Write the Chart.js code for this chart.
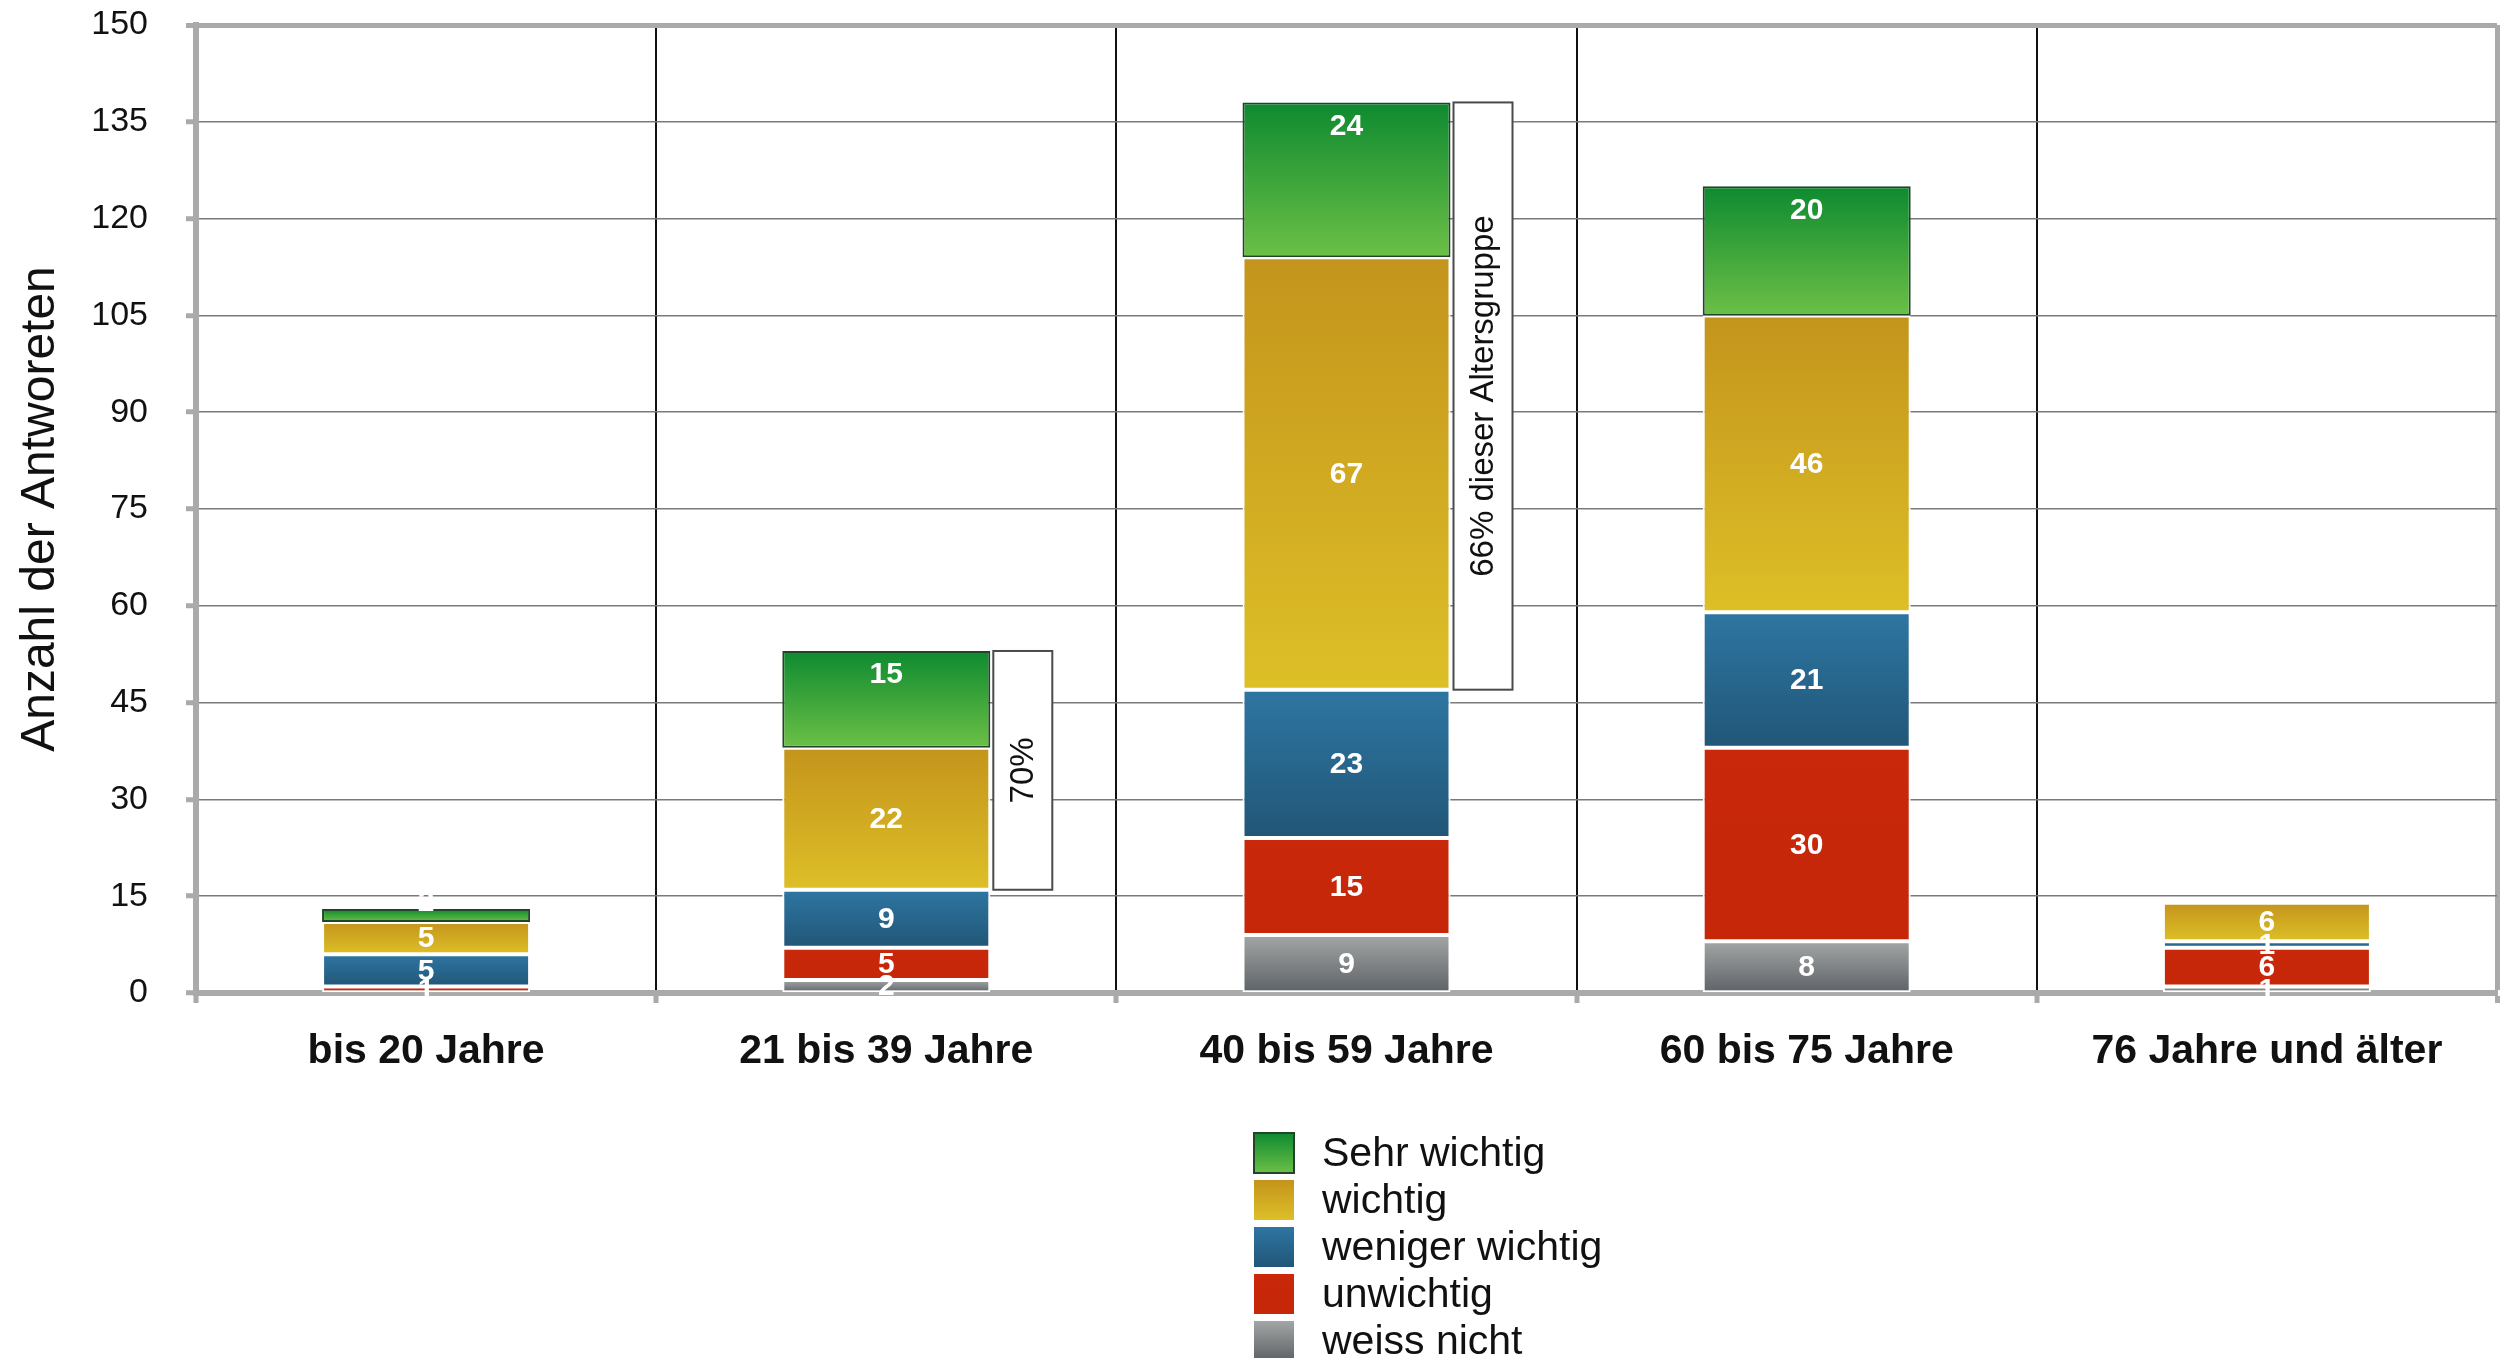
<!DOCTYPE html>
<html>
<head>
<meta charset="utf-8">
<script src="https://cdn.jsdelivr.net/npm/chart.js@4.4.1/dist/chart.umd.min.js"></script>
<style>
  html, body { margin: 0; padding: 0; background: #ffffff; }
  #wrap { position: relative; width: 2509px; height: 1358px; }
</style>
</head>
<body>
<div id="wrap"><canvas id="chart"></canvas></div>
<script>
// answers per age group, stacked bottom -> top
const ageGroups = ["bis 20 Jahre", "21 bis 39 Jahre", "40 bis 59 Jahre", "60 bis 75 Jahre", "76 Jahre und älter"];
const weissNicht = [0, 2, 9, 8, 1];
const unwichtig = [1, 5, 15, 30, 6];
const wenigerWichtig = [5, 9, 23, 21, 1];
const wichtig = [5, 22, 67, 46, 6];
const sehrWichtig = [2, 15, 24, 20, 0];
const yTicks = [0, 15, 30, 45, 60, 75, 90, 105, 120, 135, 150];
const shareNotes = [null, "70%", "66% dieser Altersgruppe", null, null];

const FONT = '"Liberation Sans", Arial, Helvetica, sans-serif';
const AXIS_GRAY = "#a9abaa";

function segmentFill(topColor, bottomColor) {
  return (context) => {
    const chart = context.chart;
    const y = chart.scales && chart.scales.y;
    if (!y || context.dataIndex === undefined) {
      return bottomColor;
    }
    const datasets = chart.data.datasets;
    let base = 0;
    for (let i = 0; i < context.datasetIndex; i++) {
      base += Number(datasets[i].data[context.dataIndex] || 0);
    }
    const value = Number(datasets[context.datasetIndex].data[context.dataIndex] || 0);
    const y0 = y.getPixelForValue(base + value);
    const y1 = y.getPixelForValue(base);
    if (!isFinite(y0) || !isFinite(y1) || y0 === y1) {
      return bottomColor;
    }
    const gradient = chart.ctx.createLinearGradient(0, y0, 0, y1);
    gradient.addColorStop(0, topColor);
    gradient.addColorStop(1, bottomColor);
    return gradient;
  };
}

const palette = {
  sehr: ["#0e8a30", "#6cc046"],
  wichtig: ["#c4941c", "#ddbf27"],
  weniger: ["#2e76a2", "#215677"],
  unwichtig: ["#c9280a", "#c62709"],
  weiss: ["#a3a6a5", "#5d6267"],
};

function makeDataset(label, data, colors, border, labelAtTop) {
  return {
    label,
    data,
    backgroundColor: segmentFill(colors[0], colors[1]),
    legendColors: colors,
    labelAtTop: !!labelAtTop,
    borderColor: border || "#ffffff",
    borderWidth: 2,
    borderSkipped: false,
    barPercentage: 0.452,
    categoryPercentage: 1,
  };
}

const valueLabelsPlugin = {
  id: "valueLabels",
  afterDatasetsDraw(chart) {
    const { ctx } = chart;
    ctx.save();
    ctx.fillStyle = "#ffffff";
    ctx.font = `bold 30px ${FONT}`;
    ctx.textAlign = "center";
    ctx.textBaseline = "middle";
    chart.data.datasets.forEach((dataset, di) => {
      const meta = chart.getDatasetMeta(di);
      meta.data.forEach((bar, i) => {
        const value = dataset.data[i];
        if (!value) {
          return;
        }
        let y = (bar.y + bar.base) / 2 + 1;
        if (dataset.labelAtTop) {
          // top segment labels sit near the upper edge
          y = bar.base - bar.y > 46 ? bar.y + 24 : bar.y - 6;
        }
        ctx.fillText(String(value), bar.x, y);
      });
    });
    ctx.restore();
  },
};

const shareNotesPlugin = {
  id: "shareNotes",
  afterDatasetsDraw(chart) {
    const { ctx } = chart;
    const y = chart.scales.y;
    const topMeta = chart.getDatasetMeta(chart.data.datasets.length - 1);
    ctx.save();
    shareNotes.forEach((note, i) => {
      if (!note) {
        return;
      }
      const total = weissNicht[i] + unwichtig[i] + wenigerWichtig[i] + wichtig[i] + sehrWichtig[i];
      const lower = weissNicht[i] + unwichtig[i] + wenigerWichtig[i];
      const bar = topMeta.data[i];
      const left = bar.x + bar.width / 2 + 3;
      const width = 59;
      const top = y.getPixelForValue(total);
      const bottom = y.getPixelForValue(lower);
      ctx.fillStyle = "#ffffff";
      ctx.fillRect(left, top, width, bottom - top);
      ctx.strokeStyle = "#4a4a4a";
      ctx.lineWidth = 2;
      ctx.strokeRect(left, top, width, bottom - top);
      ctx.translate(left + width / 2, (top + bottom) / 2);
      ctx.rotate(-Math.PI / 2);
      ctx.fillStyle = "#111111";
      ctx.font = `33px ${FONT}`;
      ctx.textAlign = "center";
      ctx.textBaseline = "middle";
      ctx.fillText(note, 0, 1);
      ctx.setTransform(1, 0, 0, 1, 0, 0);
    });
    ctx.restore();
  },
};

const stackLegendPlugin = {
  id: "stackLegend",
  afterDraw(chart) {
    const { ctx } = chart;
    const items = chart.data.datasets.slice().reverse();
    ctx.save();
    ctx.font = `41px ${FONT}`;
    ctx.textAlign = "left";
    ctx.textBaseline = "middle";
    items.forEach((dataset, i) => {
      const cy = 1153 + i * 47;
      const boxTop = cy - 20;
      const gradient = ctx.createLinearGradient(0, boxTop, 0, boxTop + 40);
      gradient.addColorStop(0, dataset.legendColors[0]);
      gradient.addColorStop(1, dataset.legendColors[1]);
      ctx.fillStyle = gradient;
      ctx.fillRect(1254, boxTop, 40, 40);
      if (dataset.borderColor !== "#ffffff") {
        ctx.strokeStyle = dataset.borderColor;
        ctx.lineWidth = 2;
        ctx.strokeRect(1254, boxTop, 40, 40);
      }
      ctx.fillStyle = "#111111";
      ctx.fillText(dataset.label, 1322, cy + 2);
    });
    ctx.restore();
  },
};

new Chart(document.getElementById("chart"), {
  type: "bar",
  plugins: [valueLabelsPlugin, shareNotesPlugin, stackLegendPlugin],
  data: {
    labels: ageGroups,
    datasets: [
      makeDataset("weiss nicht", weissNicht, palette.weiss),
      makeDataset("unwichtig", unwichtig, palette.unwichtig),
      makeDataset("weniger wichtig", wenigerWichtig, palette.weniger),
      makeDataset("wichtig", wichtig, palette.wichtig),
      makeDataset("Sehr wichtig", sehrWichtig, palette.sehr, "#22452a", true),
    ],
  },
  options: {
    responsive: true,
    maintainAspectRatio: false,
    animation: false,
    layout: {
      padding: { top: 25, right: 12, bottom: 275, left: 0 },
    },
    plugins: {
      legend: { display: false },
      tooltip: { enabled: false },
    },
    scales: {
      x: {
        stacked: true,
        offset: true,
        afterFit(scale) {
          scale.height = 90;
          scale.paddingLeft = 0;
          scale.paddingRight = 0;
        },
        grid: {
          offset: true,
          color(c) {
            if (c.index === undefined) return AXIS_GRAY;
            return c.index === 0 ? "rgba(0,0,0,0)" : "#111111";
          },
          lineWidth(c) {
            return c.index === undefined ? 5 : 2;
          },
          tickColor: AXIS_GRAY,
          tickWidth: 5,
          tickLength: 10,
        },
        border: { color: AXIS_GRAY, width: 6 },
        ticks: {
          color: "#111111",
          font: { family: FONT, size: 41, weight: "bold" },
          padding: 24,
        },
      },
      y: {
        stacked: true,
        min: 0,
        max: 150,
        afterFit(scale) {
          scale.width = 196;
          scale.paddingTop = 0;
          scale.paddingBottom = 0;
        },
        afterBuildTicks(scale) {
          scale.ticks = yTicks.map((value) => ({ value }));
        },
        grid: {
          color(c) {
            return c.tick && c.tick.value === 150 ? AXIS_GRAY : "#7a7a7a";
          },
          lineWidth(c) {
            return c.tick && c.tick.value === 150 ? 5 : 1.5;
          },
          tickColor: AXIS_GRAY,
          tickWidth: 5,
          tickLength: 10,
        },
        border: { color: AXIS_GRAY, width: 6 },
        ticks: {
          color: "#111111",
          font: { family: FONT, size: 34 },
          padding: 38,
        },
        title: {
          display: true,
          text: "Anzahl der Antworeten",
          color: "#111111",
          font: { family: FONT, size: 48 },
          padding: { top: 12, bottom: 0 },
        },
      },
    },
  },
});
</script>
</body>
</html>
